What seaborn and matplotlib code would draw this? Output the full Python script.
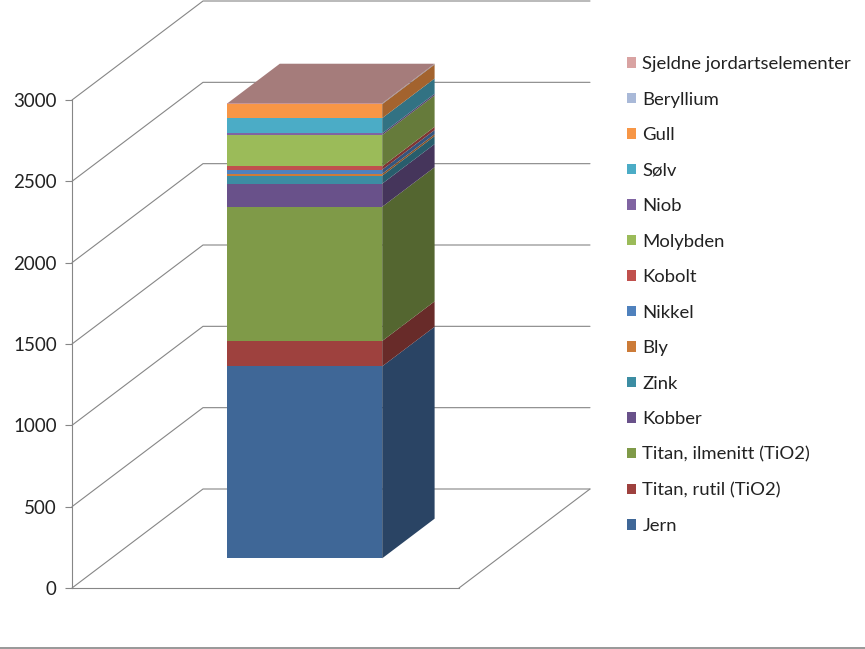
import numpy as np
import pandas as pd
import matplotlib
matplotlib.use("Agg")
import matplotlib.pyplot as plt
import matplotlib.colors as mcolors
from matplotlib.patches import Polygon
from matplotlib.lines import Line2D
from matplotlib.transforms import IdentityTransform, ScaledTranslation
import seaborn as sns

# ---- data (bottom to top of the stack) ----
series = ["Jern", "Titan, rutil (TiO2)", "Titan, ilmenitt (TiO2)", "Kobber", "Zink",
          "Bly", "Nikkel", "Kobolt", "Molybden", "Niob", "Sølv", "Gull",
          "Beryllium", "Sjeldne jordartselementer"]
values = [1180, 156, 825, 142, 49, 12, 25, 20, 193, 10, 94, 86, 2, 3]
colors = ["#3F6797", "#9E413E", "#7F9A48", "#69518A", "#3C8DA3", "#CC7B38",
          "#4F81BD", "#C0504D", "#9BBB59", "#8064A2", "#4BACC6", "#F79646",
          "#A9B9D8", "#D9A3A2"]
category = ["Total"]
yticks = [0, 500, 1000, 1500, 2000, 2500, 3000]

sns.set_style("white")
plt.rcParams["font.family"] = ["Lato", "DejaVu Sans"]

W, H = 865, 649
fig = plt.figure(figsize=(W / 100, H / 100), dpi=100)
ax = fig.add_axes([72 / W, (H - 588) / H, (459 - 72) / W, 488 / H])
ax.set_facecolor("none")

# depth geometry (pixels per unit depth) and bar depth position
DX, DY = 131.0, 99.0
D0, D1 = 0.3, 0.7
grid_c = "#868686"

ax.set_xlim(-0.5, 0.5)
ax.set_ylim(0, 3000)

tops = np.cumsum(values)
bottoms = tops - np.array(values)
df = pd.DataFrame({"gruppe": category * len(series), "serie": series,
                   "topp": tops, "bunn": bottoms})

# front faces drawn by seaborn (largest cumulative first), offset to bar depth
off = ScaledTranslation(D0 * DX / 100, D0 * DY / 100, fig.dpi_scale_trans)
for i in range(len(series) - 1, -1, -1):
    n_before = len(ax.patches)
    sns.barplot(data=df.iloc[[i]], x="gruppe", y="topp", color=colors[i],
                saturation=1, width=0.4, ax=ax, linewidth=0, zorder=3)
    for p in ax.patches[n_before:]:
        p.set_transform(ax.transData + off)
        p.set_clip_on(False)

ax.set_xlim(-0.5, 0.5)
ax.set_ylim(0, 3000)


def to_px(x, v, d):
    px, py = ax.transData.transform((x, v))
    return (px + d * DX, py + d * DY)


def shade(c, f):
    r, g, b = mcolors.to_rgb(c)
    return (r * f, g * f, b * f)


xmin, xmax = -0.5, 0.5
bar_l, bar_r = -0.2, 0.2

# walls and gridlines
for v in yticks:
    pts = [to_px(xmin, v, 0), to_px(xmin, v, 1), to_px(xmax, v, 1)]
    ax.add_artist(Line2D([p[0] for p in pts], [p[1] for p in pts], color=grid_c,
                         lw=0.8, transform=IdentityTransform(), clip_on=False, zorder=1))
p1, p2 = to_px(xmax, 0, 0), to_px(xmax, 0, 1)
ax.add_artist(Line2D([p1[0], p2[0]], [p1[1], p2[1]], color=grid_c, lw=0.8,
                     transform=IdentityTransform(), clip_on=False, zorder=1))

# side faces
for i in range(len(series)):
    b, t = bottoms[i], tops[i]
    poly = [to_px(bar_r, b, D0), to_px(bar_r, t, D0), to_px(bar_r, t, D1), to_px(bar_r, b, D1)]
    ax.add_artist(Polygon(poly, closed=True, facecolor=shade(colors[i], 0.66),
                          edgecolor="none", transform=IdentityTransform(),
                          clip_on=False, zorder=4))
# top face
t = tops[-1]
poly = [to_px(bar_l, t, D0), to_px(bar_r, t, D0), to_px(bar_r, t, D1), to_px(bar_l, t, D1)]
ax.add_artist(Polygon(poly, closed=True, facecolor=shade(colors[-1], 0.76),
                      edgecolor="none", transform=IdentityTransform(),
                      clip_on=False, zorder=4))

# axes styling
for s in ["top", "right"]:
    ax.spines[s].set_visible(False)
for s in ["left", "bottom"]:
    ax.spines[s].set_color(grid_c)
    ax.spines[s].set_linewidth(0.8)
ax.set_yticks(yticks)
ax.set_yticklabels([str(v) for v in yticks])
ax.tick_params(axis="y", length=5, width=0.8, color=grid_c, pad=6,
               labelsize=13.5, labelcolor="#222222", left=True)
ax.set_xticks([])
ax.set_xlabel("")
ax.set_ylabel("")

# legend (top series first)
handles = [plt.Rectangle((0, 0), 1, 1, facecolor=colors[i], edgecolor="none")
           for i in range(len(series) - 1, -1, -1)]
labels = [series[i] for i in range(len(series) - 1, -1, -1)]
fig.legend(handles, labels, loc="upper left", bbox_to_anchor=(627 / W, 1 - 56 / H),
           frameon=False, fontsize=13.3, handlelength=0.5, handleheight=0.5,
           handletextpad=0.33, labelspacing=1.056, borderpad=0, borderaxespad=0,
           labelcolor="#222222")

fig.add_artist(Line2D([0, 1], [1 - 647.5 / H, 1 - 647.5 / H], color=grid_c, lw=1.2,
                      transform=fig.transFigure))

fig.savefig("out.png", dpi=100)
